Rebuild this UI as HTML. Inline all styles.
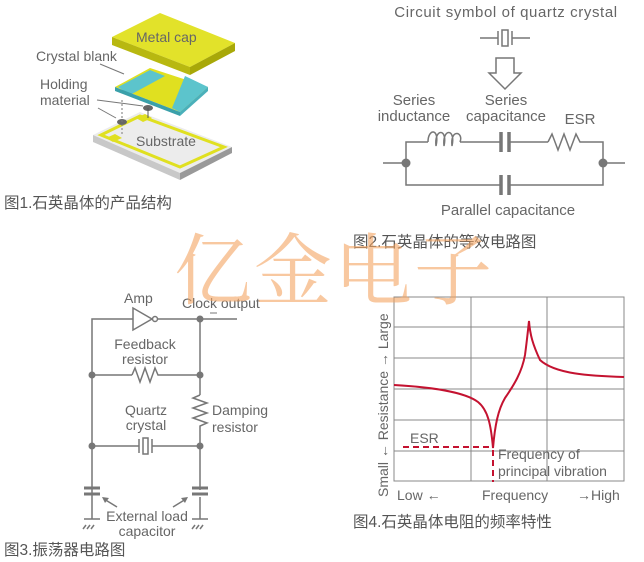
<!DOCTYPE html>
<html><head><meta charset="utf-8"><style>
html,body{margin:0;padding:0;background:#fff;}
svg{display:block;}
text{font-family:"Liberation Sans","Noto Sans CJK SC",sans-serif;fill:#666;}
.c{font-family:"Liberation Sans","Noto Sans CJK SC",sans-serif;fill:#555;font-size:15.5px;}
</style></head><body>
<svg width="644" height="562" viewBox="0 0 644 562" xmlns="http://www.w3.org/2000/svg">
<!-- Fig1 -->
<g>
<polygon points="93,135 140,112 232,147 180,173" fill="#ececec"/>
<polygon points="93,135 180,173 180,180 93,142" fill="#c8c8c8"/>
<polygon points="180,173 232,147 232,153 180,180" fill="#999"/>
<polygon points="101,135 140,116 224,147 180,167" fill="none" stroke="#e0e020" stroke-width="3"/>
<polygon points="106,138 115,134 122,138 113,142" fill="#e0e020"/>
<polygon points="136,118 145,114 152,118 143,122" fill="#e0e020"/>
<polygon points="115,87 150,68 208,87 180,112" fill="#e0e020"/>
<polygon points="118,87 150,70 165,76 130,95" fill="#5cc4cc"/>
<polygon points="185,76 208,87 180,112 172,108" fill="#5cc4cc"/>
<polygon points="115,87 180,112 180,116 115,91" fill="#3aa0aa"/>
<polygon points="180,112 208,87 208,91 180,116" fill="#4ab0ba"/>
<polygon points="112,37 160,13 235,43 190,67" fill="#e2e22a"/>
<polygon points="112,37 190,67 190,75 112,45" fill="#b8b810"/>
<polygon points="190,67 235,43 235,51 190,75" fill="#a8a808"/>
<ellipse cx="148" cy="108" rx="5" ry="3" fill="#666"/>
<ellipse cx="122" cy="122" rx="5" ry="3" fill="#666"/>
<line x1="122" y1="100" x2="122" y2="135" stroke="#777" stroke-dasharray="2,2"/>
<line x1="148" y1="108" x2="148" y2="118" stroke="#555"/>
<line x1="97" y1="100" x2="143" y2="106" stroke="#777"/>
<line x1="98" y1="108" x2="116" y2="118" stroke="#777"/>
<line x1="100" y1="64" x2="124" y2="74" stroke="#777"/>
<text x="136" y="42" font-size="14">Metal cap</text>
<text x="36" y="61" font-size="14">Crystal blank</text>
<text x="40" y="89" font-size="14">Holding</text>
<text x="40" y="105" font-size="14">material</text>
<text x="136" y="146" font-size="14">Substrate</text>
<text x="4" y="208" class="c">图1.石英晶体的产品结构</text>
</g>
<!-- Fig2 -->
<g stroke="#777" stroke-width="1.5" fill="none">
<line x1="480" y1="38" x2="498" y2="38"/><line x1="498" y1="31" x2="498" y2="45"/>
<rect x="502" y="30" width="6" height="16"/>
<line x1="512" y1="31" x2="512" y2="45"/><line x1="512" y1="38" x2="530" y2="38"/>
<polygon points="496,58 514,58 514,73 521,73 505,89 489,73 496,73"/>
<line x1="383" y1="163" x2="406" y2="163"/><line x1="603" y1="163" x2="625" y2="163"/>
<polyline points="406,163 406,142 428,142"/>
<path d="M428,142 c0,-14 12,-14 8,4 c-2,-18 12,-18 8,0 c-2,-18 12,-18 8,0 c-2,-18 12,-14 8,-4"/>
<line x1="460" y1="142" x2="500" y2="142"/>
<line x1="510" y1="142" x2="548" y2="142"/>
<polyline points="548,142 552,134 558,150 564,134 570,150 576,134 580,142 603,142 603,163"/>
<polyline points="406,163 406,185 500,185"/><polyline points="510,185 603,185 603,163"/>
</g>
<g stroke="#777" stroke-width="3.5">
<line x1="501" y1="132" x2="501" y2="152"/><line x1="509" y1="132" x2="509" y2="152"/>
<line x1="501" y1="175" x2="501" y2="195"/><line x1="509" y1="175" x2="509" y2="195"/>
</g>
<circle cx="406" cy="163" r="4.5" fill="#777"/><circle cx="603" cy="163" r="4.5" fill="#777"/>
<text x="506" y="17" font-size="15" text-anchor="middle" letter-spacing="0.6">Circuit symbol of quartz crystal</text>
<text x="414" y="105" font-size="15" text-anchor="middle">Series</text>
<text x="414" y="121" font-size="15" text-anchor="middle">inductance</text>
<text x="506" y="105" font-size="15" text-anchor="middle">Series</text>
<text x="506" y="121" font-size="15" text-anchor="middle">capacitance</text>
<text x="580" y="124" font-size="15" text-anchor="middle">ESR</text>
<text x="508" y="215" font-size="15" text-anchor="middle">Parallel capacitance</text>
<text x="353" y="247" class="c">图2.石英晶体的等效电路图</text>
<!-- Fig3 -->
<g stroke="#777" stroke-width="1.5" fill="none">
<polyline points="92,519 92,319 133,319"/>
<polygon points="133,308 133,330 152,319"/>
<circle cx="155" cy="319" r="2.5"/>
<line x1="158" y1="319" x2="237" y2="319"/>
<line x1="200" y1="319" x2="200" y2="395"/>
<polyline points="200,395 193,398 207,403 193,408 207,413 193,418 207,423 200,426 200,490"/>
<line x1="200" y1="497" x2="200" y2="519"/>
<line x1="92" y1="375" x2="132" y2="375"/>
<polyline points="132,375 135,368 140,382 145,368 150,382 155,368 158,375 200,375"/>
<line x1="92" y1="446" x2="139" y2="446"/>
<line x1="139" y1="439" x2="139" y2="453"/><rect x="143" y="438" width="5" height="16"/>
<line x1="152" y1="439" x2="152" y2="453"/><line x1="152" y1="446" x2="200" y2="446"/>
<line x1="84" y1="519" x2="100" y2="519"/><line x1="192" y1="519" x2="208" y2="519"/>
<line x1="86" y1="525" x2="83" y2="529"/><line x1="90" y1="525" x2="87" y2="529"/><line x1="94" y1="525" x2="91" y2="529"/>
<line x1="195" y1="525" x2="192" y2="529"/><line x1="199" y1="525" x2="196" y2="529"/><line x1="203" y1="525" x2="200" y2="529"/>
<line x1="104" y1="499" x2="117" y2="507"/><line x1="186" y1="499" x2="173" y2="507"/>
<line x1="210" y1="313" x2="217" y2="313" stroke-width="1"/>
</g>
<g stroke="#777" stroke-width="3">
<line x1="84" y1="488" x2="100" y2="488"/><line x1="84" y1="494" x2="100" y2="494"/>
<line x1="192" y1="488" x2="208" y2="488"/><line x1="192" y1="494" x2="208" y2="494"/>
</g>
<polygon points="102,497 109,498 105,503" fill="#777"/><polygon points="188,497 181,498 185,503" fill="#777"/>
<g fill="#777">
<circle cx="200" cy="319" r="3.5"/><circle cx="92" cy="375" r="3.5"/><circle cx="200" cy="375" r="3.5"/>
<circle cx="92" cy="446" r="3.5"/><circle cx="200" cy="446" r="3.5"/>
</g>
<text x="124" y="303" font-size="14">Amp</text>
<text x="182" y="308" font-size="14">Clock output</text>
<text x="145" y="349" font-size="14" text-anchor="middle">Feedback</text>
<text x="145" y="364" font-size="14" text-anchor="middle">resistor</text>
<text x="146" y="415" font-size="14" text-anchor="middle">Quartz</text>
<text x="146" y="430" font-size="14" text-anchor="middle">crystal</text>
<text x="212" y="415" font-size="14">Damping</text>
<text x="212" y="432" font-size="14">resistor</text>
<text x="147" y="521" font-size="14" text-anchor="middle">External load</text>
<text x="147" y="536" font-size="14" text-anchor="middle">capacitor</text>
<text x="4" y="555" class="c">图3.振荡器电路图</text>
<!-- Fig4 -->
<g stroke="#888" stroke-width="1" fill="none">
<rect x="394" y="297" width="230" height="184"/>
<line x1="471" y1="297" x2="471" y2="481"/><line x1="547" y1="297" x2="547" y2="481"/>
<line x1="394" y1="327" x2="624" y2="327"/><line x1="394" y1="358" x2="624" y2="358"/>
<line x1="394" y1="389" x2="624" y2="389"/><line x1="394" y1="420" x2="624" y2="420"/>
<line x1="394" y1="451" x2="624" y2="451"/>
</g>
<path d="M394,385 C430,387 465,392 478,402 C488,410 491,425 493,448 C495,425 498,410 505,398 C514,385 522,372 525,355 C527,340 528,330 529,321 C530,335 533,345 540,360 C555,374 590,376 624,377" stroke="#c41230" stroke-width="2" fill="none"/>
<line x1="403" y1="447" x2="493" y2="447" stroke="#c41230" stroke-width="2" stroke-dasharray="6,4"/>
<line x1="493" y1="450" x2="493" y2="482" stroke="#c41230" stroke-width="2" stroke-dasharray="6,4"/>
<text x="410" y="443" font-size="14">ESR</text>
<text x="498" y="459" font-size="14">Frequency of</text>
<text x="498" y="476" font-size="14">principal vibration</text>
<text x="397" y="500" font-size="14">Low ←</text>
<text x="482" y="500" font-size="14">Frequency</text>
<text x="577" y="500" font-size="14">→High</text>
<text transform="translate(388,497) rotate(-90)" font-size="14">Small ←  Resistance  → Large</text>
<text x="353" y="527" class="c">图4.石英晶体电阻的频率特性</text>
<!-- watermark -->
<text x="174" y="298" font-size="78" style="font-family:'Noto Serif CJK SC',serif;fill:#f4a460;fill-opacity:0.6" letter-spacing="2">亿金电子</text>
</svg>
</body></html>
